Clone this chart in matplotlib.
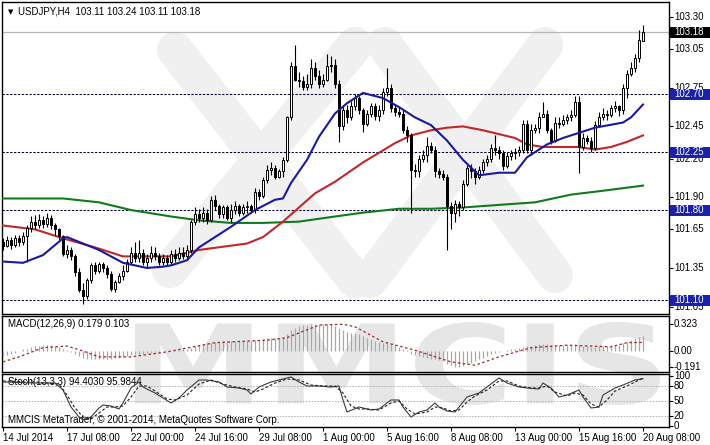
import numpy as np
import matplotlib.pyplot as plt
import matplotlib.transforms as mtransforms
from matplotlib.patches import Rectangle, PathPatch
from matplotlib.textpath import TextPath
from matplotlib.font_manager import FontProperties

plt.rcParams['font.family'] = ['Liberation Sans', 'DejaVu Sans']

W, H = 710, 445

# USDJPY H4, 14 Jul 2014 16:00 .. 20 Aug 2014 08:00 (161 bars)
opens = [101.55, 101.52, 101.57, 101.53, 101.58, 101.55, 101.60, 101.66, 101.71, 101.68,
         101.72, 101.69, 101.74, 101.68, 101.65, 101.60, 101.46, 101.49, 101.44, 101.32,
         101.18, 101.13, 101.26, 101.37, 101.33, 101.38, 101.35, 101.30, 101.19, 101.24,
         101.29, 101.33, 101.40, 101.47, 101.43, 101.47, 101.40, 101.43, 101.47, 101.44,
         101.40, 101.43, 101.40, 101.46, 101.43, 101.47, 101.44, 101.49, 101.71, 101.77,
         101.74, 101.78, 101.72, 101.88, 101.83, 101.77, 101.82, 101.74, 101.80, 101.83,
         101.78, 101.82, 101.83, 101.80, 101.94, 101.91, 102.03, 102.11, 102.13, 102.06,
         102.10, 102.19, 102.52, 102.92, 102.81, 102.80, 102.76, 102.78, 102.90, 102.84,
         102.78, 102.81, 102.92, 102.93, 102.78, 102.45, 102.58, 102.52, 102.61, 102.67,
         102.58, 102.47, 102.55, 102.61, 102.53, 102.58, 102.72, 102.75, 102.59, 102.56,
         102.55, 102.42, 102.38, 102.11, 102.10, 102.20, 102.23, 102.30, 102.27, 102.10,
         102.08, 102.06, 101.83, 101.78, 101.85, 101.82, 102.00, 102.13, 102.10, 102.06,
         102.11, 102.17, 102.20, 102.28, 102.27, 102.24, 102.14, 102.22, 102.24, 102.25,
         102.27, 102.47, 102.27, 102.42, 102.44, 102.52, 102.55, 102.42, 102.34, 102.48,
         102.47, 102.50, 102.52, 102.54, 102.64, 102.29, 102.36, 102.34, 102.28, 102.46,
         102.52, 102.55, 102.54, 102.59, 102.61, 102.58, 102.75, 102.86, 102.90, 102.98,
         103.11]
highs = [101.58, 101.60, 101.59, 101.61, 101.61, 101.63, 101.68, 101.75, 101.76, 101.77,
         101.75, 101.78, 101.76, 101.70, 101.66, 101.61, 101.53, 101.51, 101.46, 101.35,
         101.23, 101.27, 101.39, 101.40, 101.40, 101.40, 101.37, 101.33, 101.26, 101.31,
         101.37, 101.42, 101.51, 101.55, 101.57, 101.50, 101.46, 101.52, 101.51, 101.47,
         101.46, 101.45, 101.49, 101.50, 101.51, 101.51, 101.53, 101.72, 101.82, 101.81,
         101.82, 101.81, 101.91, 101.92, 101.85, 101.84, 101.84, 101.85, 101.87, 101.85,
         101.85, 101.87, 101.85, 101.97, 101.96, 102.06, 102.15, 102.17, 102.15, 102.12,
         102.21, 102.53, 102.95, 103.08, 102.87, 102.84, 102.86, 102.97, 102.95, 102.89,
         102.86, 103.01, 103.00, 102.97, 102.81, 102.61, 102.62, 102.65, 102.70, 102.69,
         102.59, 102.58, 102.63, 102.63, 102.62, 102.75, 102.90, 102.78, 102.62, 102.60,
         102.58, 102.45, 102.40, 102.16, 102.23, 102.27, 102.37, 102.33, 102.30, 102.13,
         102.11, 102.08, 101.86, 101.88, 101.87, 102.03, 102.15, 102.16, 102.13, 102.14,
         102.20, 102.23, 102.31, 102.38, 102.30, 102.27, 102.25, 102.27, 102.28, 102.30,
         102.50, 102.50, 102.47, 102.47, 102.56, 102.64, 102.58, 102.44, 102.52, 102.52,
         102.54, 102.55, 102.58, 102.69, 102.69, 102.40, 102.38, 102.37, 102.49, 102.56,
         102.59, 102.58, 102.62, 102.65, 102.62, 102.78, 102.89, 102.95, 103.01, 103.20,
         103.24]
lows = [101.49, 101.51, 101.50, 101.51, 101.52, 101.53, 101.40, 101.63, 101.65, 101.66,
        101.66, 101.67, 101.65, 101.61, 101.57, 101.44, 101.43, 101.41, 101.29, 101.16,
        101.07, 101.11, 101.23, 101.30, 101.31, 101.32, 101.27, 101.17, 101.16, 101.23,
        101.26, 101.32, 101.38, 101.40, 101.40, 101.37, 101.35, 101.40, 101.41, 101.37,
        101.37, 101.37, 101.37, 101.40, 101.41, 101.42, 101.41, 101.47, 101.68, 101.71,
        101.71, 101.69, 101.71, 101.80, 101.74, 101.74, 101.72, 101.71, 101.77, 101.75,
        101.76, 101.78, 101.78, 101.78, 101.88, 101.89, 102.01, 102.07, 102.04, 102.05,
        102.06, 102.17, 102.50, 102.80, 102.76, 102.73, 102.73, 102.75, 102.81, 102.75,
        102.76, 102.80, 102.87, 102.75, 102.33, 102.42, 102.48, 102.50, 102.58, 102.55,
        102.41, 102.45, 102.52, 102.50, 102.49, 102.55, 102.69, 102.56, 102.53, 102.52,
        102.40, 102.33, 101.78, 102.06, 102.06, 102.17, 102.17, 102.24, 102.06, 102.05,
        102.03, 101.49, 101.65, 101.71, 101.75, 101.80, 101.99, 102.05, 102.00, 102.04,
        102.09, 102.14, 102.17, 102.23, 102.20, 102.11, 102.13, 102.19, 102.20, 102.22,
        102.24, 102.24, 102.23, 102.40, 102.40, 102.52, 102.40, 102.31, 102.33, 102.44,
        102.45, 102.47, 102.49, 102.52, 102.09, 102.27, 102.31, 102.25, 102.27, 102.45,
        102.50, 102.50, 102.52, 102.56, 102.53, 102.55, 102.67, 102.84, 102.87, 102.95,
        103.11]
closes = [101.52, 101.57, 101.53, 101.58, 101.55, 101.60, 101.66, 101.71, 101.68, 101.72,
          101.69, 101.74, 101.68, 101.65, 101.60, 101.46, 101.49, 101.44, 101.32, 101.18,
          101.13, 101.26, 101.37, 101.33, 101.38, 101.35, 101.30, 101.19, 101.24, 101.29,
          101.33, 101.40, 101.47, 101.43, 101.47, 101.40, 101.43, 101.47, 101.44, 101.40,
          101.43, 101.40, 101.46, 101.43, 101.47, 101.44, 101.49, 101.71, 101.77, 101.74,
          101.78, 101.72, 101.88, 101.83, 101.77, 101.82, 101.74, 101.80, 101.83, 101.78,
          101.82, 101.83, 101.80, 101.94, 101.91, 102.03, 102.11, 102.13, 102.06, 102.10,
          102.19, 102.52, 102.92, 102.81, 102.80, 102.76, 102.78, 102.90, 102.84, 102.78,
          102.81, 102.92, 102.93, 102.78, 102.45, 102.58, 102.52, 102.61, 102.67, 102.58,
          102.47, 102.55, 102.61, 102.53, 102.58, 102.72, 102.75, 102.59, 102.56, 102.55,
          102.42, 102.38, 102.11, 102.10, 102.20, 102.23, 102.30, 102.27, 102.10, 102.08,
          102.06, 101.83, 101.78, 101.85, 101.82, 102.00, 102.13, 102.10, 102.06, 102.11,
          102.17, 102.20, 102.28, 102.27, 102.24, 102.14, 102.22, 102.24, 102.25, 102.27,
          102.47, 102.27, 102.42, 102.44, 102.52, 102.55, 102.42, 102.34, 102.48, 102.47,
          102.50, 102.52, 102.54, 102.64, 102.29, 102.36, 102.34, 102.28, 102.46, 102.52,
          102.55, 102.54, 102.59, 102.61, 102.58, 102.75, 102.86, 102.90, 102.98, 103.12,
          103.18]
assert len(opens) == len(highs) == len(lows) == len(closes) == 161

# moving averages (bar index, price)
ma_blue_idx = [0, 5, 10, 15, 16, 20, 24, 30, 36, 40, 42, 46, 49, 57, 63, 68, 70, 72, 76, 79,
               83, 86, 90, 95, 99, 103, 107, 111, 115, 119, 124, 128, 131, 136, 140, 144, 148,
               155, 157, 160]
ma_blue = [101.40, 101.39, 101.45, 101.58, 101.59, 101.54, 101.49, 101.39, 101.35, 101.36,
           101.37, 101.41, 101.51, 101.67, 101.80, 101.88, 101.89, 102.01, 102.19, 102.37,
           102.55, 102.63, 102.71, 102.67, 102.60, 102.52, 102.46, 102.34, 102.19, 102.07,
           102.09, 102.09, 102.21, 102.31, 102.36, 102.40, 102.44, 102.48, 102.52, 102.62]
ma_red_idx = [0, 8, 15, 23, 30, 36, 42, 49, 61, 65, 70, 74, 78, 83, 90, 98, 102, 107, 111,
              115, 120, 124, 128, 131, 135, 144, 148, 152, 156, 160]
ma_red = [101.68, 101.65, 101.58, 101.51, 101.44, 101.44, 101.44, 101.49, 101.54, 101.59,
          101.71, 101.82, 101.93, 102.02, 102.17, 102.32, 102.38, 102.42, 102.44, 102.45,
          102.42, 102.39, 102.36, 102.31, 102.29, 102.29, 102.27, 102.29, 102.33, 102.38]
ma_green_idx = [0, 15, 24, 32, 42, 49, 57, 65, 74, 83, 90, 99, 107, 115, 124, 133, 142, 150, 160]
ma_green = [101.89, 101.89, 101.86, 101.80, 101.75, 101.72, 101.70, 101.70, 101.71, 101.75,
            101.78, 101.81, 101.81, 101.82, 101.84, 101.86, 101.92, 101.95, 101.99]

levels = [102.70, 102.25, 101.80, 101.10]
bid = 103.18
price_ticks = [103.30, 103.05, 102.75, 102.45, 102.20, 101.90, 101.65, 101.35, 101.05]

# MACD(12,26,9) main values per bar
macd = [-0.06, -0.05, -0.04, -0.02, 0.00, 0.02, 0.03, 0.05, 0.06, 0.06,
        0.07, 0.07, 0.07, 0.06, 0.05, 0.03, 0.01, -0.01, -0.03, -0.06,
        -0.08, -0.09, -0.09, -0.09, -0.09, -0.09, -0.09, -0.09, -0.08, -0.08,
        -0.07, -0.06, -0.05, -0.04, -0.03, -0.03, -0.02, -0.02, -0.01, -0.01,
        0.00, 0.00, 0.00, 0.01, 0.01, 0.02, 0.02, 0.04, 0.06, 0.07,
        0.08, 0.09, 0.10, 0.11, 0.11, 0.12, 0.12, 0.12, 0.12, 0.12,
        0.12, 0.12, 0.12, 0.13, 0.13, 0.14, 0.15, 0.16, 0.16, 0.16,
        0.17, 0.20, 0.25, 0.28, 0.30, 0.31, 0.31, 0.32, 0.32, 0.32,
        0.32, 0.32, 0.32, 0.30, 0.27, 0.25, 0.23, 0.22, 0.21, 0.20,
        0.18, 0.16, 0.14, 0.12, 0.11, 0.10, 0.09, 0.08, 0.07, 0.05,
        0.03, 0.01, -0.03, -0.05, -0.06, -0.07, -0.08, -0.09, -0.10, -0.11,
        -0.12, -0.15, -0.17, -0.19, -0.19, -0.18, -0.16, -0.14, -0.12, -0.10,
        -0.08, -0.06, -0.04, -0.02, -0.01, 0.00, 0.01, 0.02, 0.03, 0.04,
        0.05, 0.06, 0.06, 0.07, 0.08, 0.08, 0.08, 0.07, 0.07, 0.07,
        0.07, 0.07, 0.07, 0.08, 0.07, 0.06, 0.06, 0.05, 0.05, 0.06,
        0.06, 0.06, 0.07, 0.07, 0.07, 0.09, 0.11, 0.13, 0.15, 0.17,
        0.179]
sig_idx = [0, 4, 10, 16, 20, 24, 32, 41, 53, 66, 71, 79, 85, 88, 95, 103, 112, 118, 124,
           132, 141, 152, 156, 160]
sig_val = [-0.13, -0.07, 0.04, 0.06, 0.00, -0.07, -0.07, -0.01, 0.10, 0.13, 0.16, 0.31,
           0.32, 0.29, 0.11, 0.01, -0.13, -0.17, -0.07, 0.04, 0.07, 0.05, 0.10, 0.103]

# Stochastic(13,3,3) main and signal
st_idx = [0, 8, 13, 15, 17, 19, 20, 22, 24, 25, 27, 29, 30, 32, 34, 35, 38, 40, 42, 44, 46,
          49, 51, 54, 56, 59, 61, 62, 64, 67, 69, 72, 74, 76, 79, 82, 84, 85, 86, 89, 90, 92,
          94, 97, 99, 100, 102, 104, 106, 108, 109, 111, 113, 114, 116, 119, 121, 124, 126,
          129, 131, 134, 135, 137, 139, 141, 144, 145, 147, 149, 150, 153, 155, 158, 160]
st_main = [88, 86, 86, 72, 38, 18, 12, 18, 36, 42, 40, 34, 46, 76, 88, 78, 66, 56, 46, 56, 72,
           92, 92, 88, 78, 76, 72, 64, 78, 88, 92, 98, 88, 80, 80, 78, 80, 52, 28, 38, 36, 32,
           34, 52, 52, 38, 18, 28, 32, 46, 38, 30, 28, 38, 58, 66, 78, 96, 86,
           78, 76, 74, 86, 76, 58, 62, 72, 58, 36, 38, 62, 76, 82, 92, 94.403]
st_sig_idx = [0, 8, 14, 16, 18, 20, 22, 24, 26, 28, 30, 32, 34, 36, 38, 41, 43, 46, 49, 52, 55,
              58, 61, 63, 65, 68, 71, 74, 77, 80, 83, 85, 87, 89, 91, 94, 97, 99, 101, 103,
              106, 108, 110, 112, 114, 116, 118, 121, 124, 126, 129, 132, 134, 136, 138, 141,
              143, 145, 147, 149, 151, 153, 156, 158, 160]
st_sig = [90, 88, 84, 62, 36, 18, 14, 26, 38, 38, 40, 58, 80, 80, 70, 54, 52, 62, 84, 92, 84,
          78, 74, 68, 74, 86, 94, 92, 82, 80, 80, 66, 40, 34, 34, 32, 46, 50, 34, 24,
          28, 38, 36, 30, 32, 48, 60, 72, 90, 90, 80, 76, 76, 80, 68, 60,
          66, 62, 44, 38, 52, 70, 80, 88, 95.9844]

date_idx = [0, 16, 32, 48, 64, 80, 96, 112, 128, 144, 160]
date_labels = ['14 Jul 2014', '17 Jul 08:00', '22 Jul 00:00', '24 Jul 16:00', '29 Jul 08:00',
               '1 Aug 00:00', '5 Aug 16:00', '8 Aug 08:00', '13 Aug 00:00', '15 Aug 16:00',
               '20 Aug 08:00']

FS = 7
BLUE_BOX = '#1c22a8'

fig = plt.figure(figsize=(W / 100, H / 100), dpi=100, facecolor='white')


def px_axes(left, top, right, bottom):
    return fig.add_axes([left / W, 1 - bottom / H, (right - left) / W, (bottom - top) / H])


ax = px_axes(2, 2, 669, 314)
axm = px_axes(2, 316, 669, 372)
axs = px_axes(2, 374, 669, 427)

xlim = (-0.25, 166.5)
for a in (ax, axm, axs):
    a.set_facecolor('none')
    a.set_xlim(*xlim)
    a.set_xticks([])
    for s in a.spines.values():
        s.set_color('black')
        s.set_linewidth(1.0)
    a.tick_params(axis='y', which='both', left=False, right=True, direction='out',
                  length=3, width=0.8, labelleft=False, labelright=False)

ax.set_ylim(100.9923, 103.4166)
axm.set_ylim(-0.251, 0.419)
axs.set_ylim(-2, 104)

# watermark: logo cross in the price panel and the MMCIS lettering below
wm = '#f0f0f0'
for (x0, y0, x1, y1) in [(175, 50, 355, 280), (355, 45, 170, 270),
                          (385, 45, 555, 275), (545, 45, 370, 280)]:
    fig.add_artist(plt.Line2D([x0 / W, x1 / W], [1 - y0 / H, 1 - y1 / H], lw=26,
                              color=wm, solid_capstyle='round', zorder=-2,
                              transform=fig.transFigure))
tp = TextPath((0, 0), 'MMCIS', size=1, prop=FontProperties(family='DejaVu Sans', weight='bold'))
ext = tp.get_extents()
sx = (660 - 135) / ext.width
sy = (405 - 322) / ext.height
tr = mtransforms.Affine2D().translate(-ext.x0, -ext.y0).scale(sx, sy).translate(135, H - 405)
fig.add_artist(PathPatch(tp, transform=tr, fc='#e6e6e6', ec='none', zorder=-2))

# price panel
x = np.arange(len(closes))
for i in x:
    o, h, l, c = opens[i], highs[i], lows[i], closes[i]
    ax.vlines(i, min(l, o, c), max(h, o, c), color='black', lw=0.8, zorder=4)
    up = c >= o
    ax.add_patch(Rectangle((i - 0.28, min(o, c)), 0.56, max(abs(c - o), 0.004),
                           facecolor='white' if up else 'black', edgecolor='black',
                           lw=0.7, zorder=5))

ax.plot(ma_green_idx, ma_green, color='#137a1c', lw=1.5, zorder=3)
ax.plot(ma_red_idx, ma_red, color='#c0282a', lw=1.5, zorder=3)
ax.plot(ma_blue_idx, ma_blue, color='#1a1a9e', lw=1.5, zorder=6)

for lv in levels:
    ax.axhline(lv, color='#000030', lw=0.75, dashes=(2.2, 1.5), zorder=2)
ax.axhline(bid, color='#b8b8b8', lw=0.9, zorder=2)

ax.set_yticks(price_ticks + [bid] + levels)

lab_x = 674 / W


def right_label(a, y, txt, box=None):
    trans = mtransforms.blended_transform_factory(fig.transFigure, a.transData)
    if box is not None:
        yd = a.transData.transform((0, y))[1]
        fig.add_artist(Rectangle((670, yd - 5.5), 40, 11, transform=None, facecolor=box,
                                 edgecolor='none', zorder=20))
        fig.text(lab_x, y, txt, transform=trans, fontsize=FS, color='white',
                 va='center', ha='left', zorder=21)
    else:
        fig.text(lab_x, y, txt, transform=trans, fontsize=FS, color='black',
                 va='center', ha='left', zorder=19)


for p in price_ticks:
    right_label(ax, p, f'{p:.2f}')
right_label(ax, bid, f'{bid:.2f}', box='black')
for lv in levels:
    right_label(ax, lv, f'{lv:.2f}', box=BLUE_BOX)

ax.text(0.009, 0.968, '\u25bc', transform=ax.transAxes, fontsize=5, va='center', ha='left',
        family='DejaVu Sans')
ax.text(0.024, 0.968, 'USDJPY,H4  %.2f %.2f %.2f %.2f' % (opens[-1], highs[-1], lows[-1], closes[-1]),
        transform=ax.transAxes, fontsize=FS, va='center', ha='left')

# MACD panel
axm.vlines(x, 0, macd, color='#a8a8a8', lw=0.9, zorder=3)
axm.plot(sig_idx, sig_val, color='#9a2a2a', lw=0.9, dashes=(2, 2), zorder=4)
axm.set_yticks([0.323, 0.0, -0.191])
for v, t in [(0.323, '0.323'), (0.0, '0.00'), (-0.191, '-0.191')]:
    right_label(axm, v, t)
axm.text(0.009, 0.86, 'MACD(12,26,9) %.3f %.3f' % (macd[-1], sig_val[-1]), transform=axm.transAxes,
         fontsize=FS, va='center', ha='left')

# Stochastic panel
for lv in (80, 50, 20):
    axs.axhline(lv, color='#b0b0b0', lw=0.7, dashes=(1.5, 1.5), zorder=2)
axs.plot(st_idx, st_main, color='#3c3c3c', lw=0.8, zorder=4)
axs.plot(st_sig_idx, st_sig, color='#202020', lw=0.8, dashes=(2.5, 1.8), zorder=4)
axs.set_yticks([100, 80, 50, 20, 0])
for v in (100, 80, 50, 20, 0):
    right_label(axs, v, str(v))
axs.text(0.009, 0.84, 'Stoch(13,3,3) %.4f %.4f' % (st_main[-1], st_sig[-1]), transform=axs.transAxes,
         fontsize=FS, va='center', ha='left')
axs.text(0.009, 0.13, 'MMCIS MetaTrader, \u00a9 2001-2014, MetaQuotes Software Corp.',
         transform=axs.transAxes, fontsize=FS, va='center', ha='left')

# time axis
axs.set_xticks(date_idx)
axs.tick_params(axis='x', direction='out', length=3, width=0.8, labelbottom=False)
tx = mtransforms.blended_transform_factory(axs.transData, axs.transAxes)
for i, t in zip(date_idx, date_labels):
    axs.text(i - 0.1, -0.115, t, transform=tx, fontsize=FS, va='top', ha='left')

fig.savefig('out.png', dpi=100, facecolor='white')
